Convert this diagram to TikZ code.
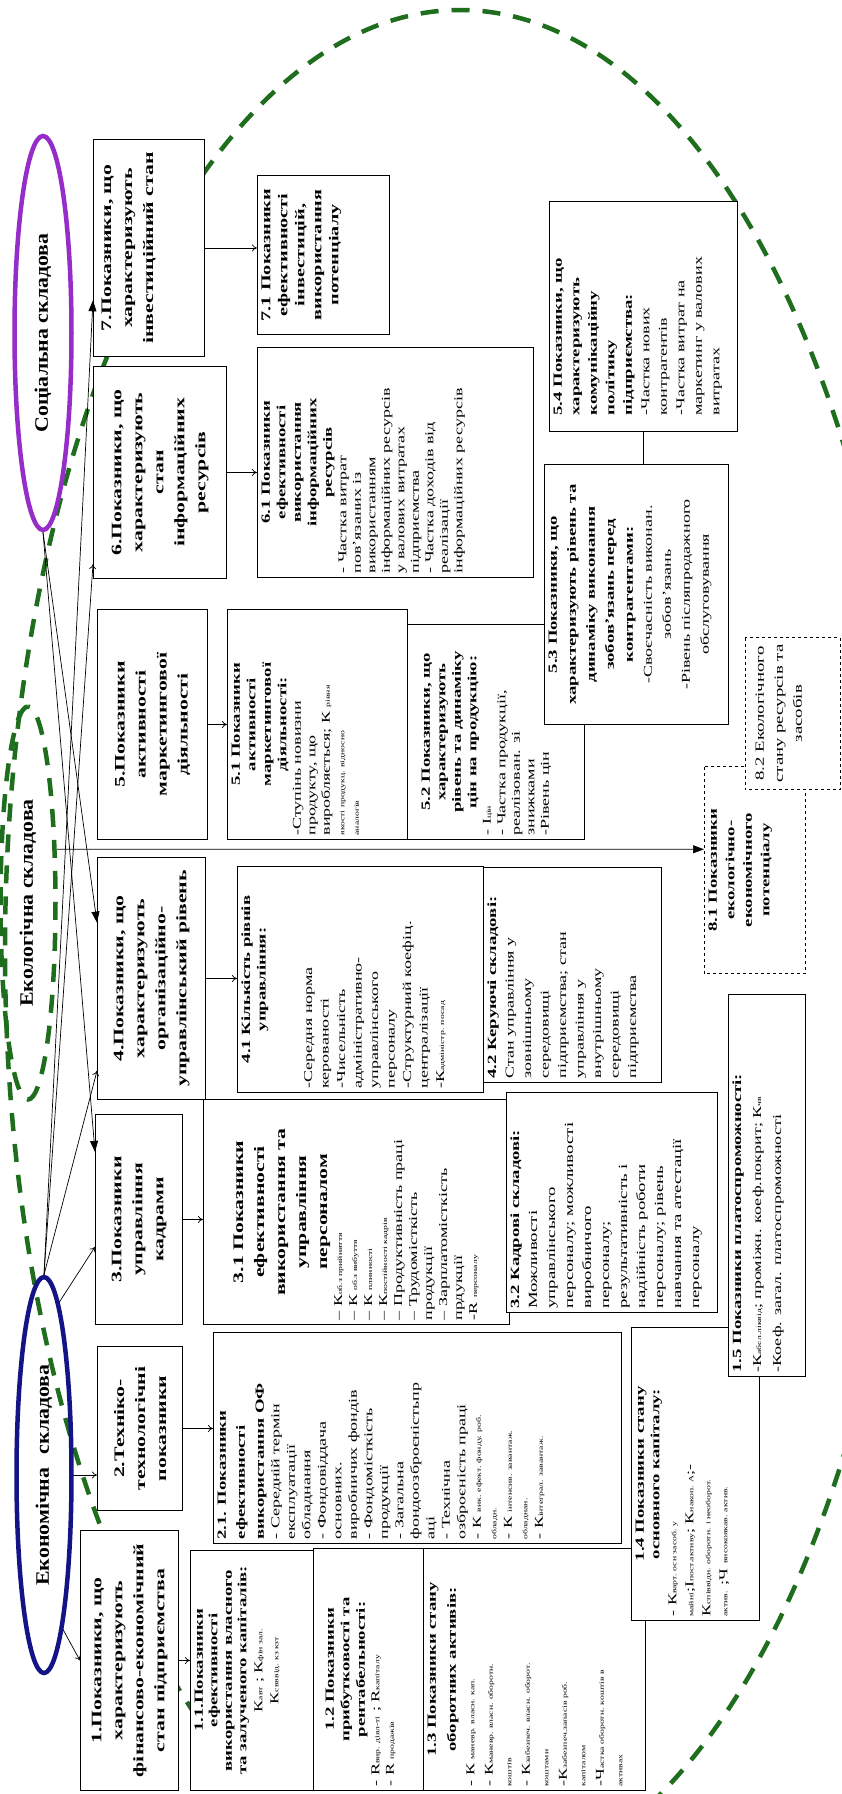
\documentclass[tikz,border=0pt]{standalone}
\usepackage{fontspec}
\setmainfont{Liberation Serif}[FakeStretch=1.5]
\newfontfamily\ringfamily{Liberation Serif}[FakeStretch=1.15]
\usetikzlibrary{calc,positioning,shapes.geometric,arrows.meta}
\definecolor{ecogreen}{RGB}{30,110,30}
\definecolor{socpurple}{RGB}{150,45,200}
\definecolor{econblue}{RGB}{20,20,135}
\newcommand{\mtitle}{\bfseries\fontsize{14.5}{21}\selectfont}
\newcommand{\stitle}{\bfseries\fontsize{12.5}{15.5}\selectfont}
\newcommand{\btext}{\normalfont\fontsize{12}{14.5}\selectfont}
\newcommand{\ringfont}{\ringfamily\bfseries\fontsize{19}{22}\selectfont}
\newcommand{\sm}[1]{{\fontsize{6.5}{7}\selectfont #1}}
\tikzset{
  box/.style={draw, fill=white, line width=1.1pt, rotate=90, inner sep=4pt, anchor=north west},
  dbox/.style={box, dashed, line width=0.9pt},
  arr/.style={-{To[length=5pt,width=7pt]}, line width=0.7pt},
  bigarr/.style={-{Triangle[length=11pt,width=8pt]}, line width=0.7pt},
  ring/.style={ellipse, rotate=90, line width=4.5pt, inner sep=0pt, font=\ringfont},
  ecodash/.style={ecogreen, line width=4.5pt, dash pattern=on 18pt off 13pt},
}
\begin{document}
\begin{tikzpicture}[x=1pt, y=-1pt]
\path[use as bounding box, fill=white] (0,0) rectangle (842,1794);
\clip (0,0) rectangle (842,1794);

% big dashed ring
\draw[ecodash] (460,950) ellipse [x radius=455, y radius=940];

% the three rings
\node[ring, draw=socpurple, minimum width=394pt, minimum height=57pt] (soc) at (43,333) {Соціальна складова};
\node[ring, draw=ecogreen, dash pattern=on 18pt off 13pt, minimum width=393pt, minimum height=55pt] (eco) at (28,903) {Екологічна складова};
\node[ring, draw=econblue, minimum width=396pt, minimum height=55pt] (econ) at (44,1475) {Економічна\hspace{14pt}складова};

% group 7
\node[box] (b7) at (93,357) {\parbox[c][103pt][t]{209pt}{\vspace*{4pt}\centering\mtitle 7.Показники, що\\характеризують\\інвестиційний стан}};
\node[box] (b71) at (257,335) {\parbox[c][124pt][t]{151pt}{\centering\bfseries\fontsize{13.5}{17}\selectfont 7.1 Показники\\ефективності\\інвестицій,\\використання\\потенціалу}};

% group 6
\node[box] (b6) at (93,579) {\parbox[c][125pt][c]{204pt}{\centering\mtitle 6.Показники, що\\характеризують\\стан\\інформаційних\\ресурсів}};
\node[box] (b61) at (257,578) {\parbox[c][268pt][t]{222pt}{\centering\stitle 6.1 Показники\\ефективності\\використання\\інформаційних\\ресурсів\par\raggedright\btext - Частка витрат\\пов’язаних із\\використанням\\інформаційних ресурсів\\у валових витратах\\підприємства\\- Частка доходів від\\реалізації\\інформаційних ресурсів}};

% group 5
\node[box] (b5) at (97,840) {\parbox[c][102pt][c]{222pt}{\centering\mtitle 5.Показники\\активності\\маркетингової\\діяльності}};
\node[box] (b51) at (227,840) {\parbox[c][172pt][t]{222pt}{\centering\stitle 5.1 Показники\\активності\\маркетингової\\діяльності:\par\raggedright\btext -Ступінь новизни\\продукту, що\\виробляється; К \sm{рівня}\\\sm{якості продукц. відносно}\\\sm{аналогів}}};
\node[box] (b52) at (407,840) {\parbox[c][169pt][t]{207pt}{\vspace*{10pt}\centering\stitle 5.2 Показники, що\\характеризують\\рівень та динаміку\\цін на продукцію:\par\raggedright\btext - І\sm{цін}\\- Частка продукції,\\реалізован. зі\\знижками\\-Рівень цін}};
\node[box] (b53) at (544,725) {\parbox[c][176pt][t]{252pt}{\centering\bfseries\fontsize{12.5}{19}\selectfont 5.3 Показники, що\\характеризують рівень та\\динаміку виконання\\зобов’язань перед\\контрагентами:\par\normalfont\fontsize{12}{19}\selectfont -Своєчасність виконан.\\зобов’язань\\-Рівень післяпродажного\\обслуговування}};
\node[box] (b54) at (549,432) {\parbox[c][180pt][t]{222pt}{\raggedright\leftskip=12pt\bfseries\fontsize{12.5}{17.5}\selectfont 5.4 Показники, що\\характеризують\\комунікаційну\\політику\\підприємства:\par\normalfont\fontsize{12}{17.5}\selectfont -Частка нових\\контрагентів\\-Частка витрат на\\маркетинг у валових\\витратах}};

% group 4
\node[box] (b4) at (97,1100) {\parbox[c][100pt][c]{234pt}{\centering\mtitle 4.Показники, що\\характеризують\\організаційно-\\управлінський рівень}};
\node[box] (b41) at (237,1093) {\parbox[c][238pt][t]{218pt}{\centering\stitle 4.1 Кількість рівнів\\управління:\par\vspace{30pt}\raggedright\normalfont\fontsize{12}{16.5}\selectfont -Середня норма\\керованості\\-Чисельність\\адміністративно-\\управлінського\\персоналу\\-Структурний коефіц.\\централізації\\-К\sm{адміністр. посад}}};
\node[box] (b42) at (483,1083) {\parbox[c][170pt][t]{207pt}{\raggedright\stitle 4.2 Керуючі складові:\par\normalfont\fontsize{12}{17.5}\selectfont Стан управління у\\зовнішньому\\середовищі\\підприємства; стан\\управління у\\внутрішньому\\середовищі\\підприємства}};

% group 3
\node[box] (b3) at (95,1325) {\parbox[c][79pt][c]{202pt}{\centering\mtitle 3.Показники\\управління\\кадрами}};
\node[box] (b31) at (203,1325) {\parbox[c][298pt][t]{217pt}{\vspace*{26pt}\centering\mtitle 3.1 Показники\\ефективності\\використання та\\управління\\персоналом\par\raggedright\normalfont\fontsize{12}{15}\selectfont – К\sm{об.з прийняття}\\– К \sm{об.з вибуття}\\– К \sm{плинності}\\– К\sm{постійності кадрів}\\– Продуктивність праці\\– Трудомісткість\\продукції\\– Зарплатомісткість\\прдукції\\-R \sm{персоналу}}};
\node[box] (b32) at (506,1313) {\parbox[c][203pt][t]{212pt}{\raggedright\stitle 3.2 Кадрові складові:\par\normalfont\fontsize{12.5}{18}\selectfont Можливості\\управлінського\\персоналу; можливості\\виробничого\\персоналу;\\результативність і\\надійність роботи\\персоналу; рівень\\навчання та атестації\\персоналу}};

% group 2
\node[box] (b2) at (97,1511) {\parbox[c][77pt][c]{156pt}{\centering\mtitle 2.Техніко-\\технологічні\\показники}};
\node[box] (b21) at (213,1544) {\parbox[c][400pt][t]{203pt}{\raggedright\bfseries\fontsize{12.5}{19}\selectfont 2.1. Показники\\ефективності\\використання ОФ\par\normalfont\fontsize{12}{15.5}\selectfont - Середній термін\\експлуатації\\обладнання\\- Фондовіддача\\основних.\\виробничих фондів\\- Фондомісткість\\продукції\\- Загальна\\фондоозброєністьпр\\аці\\- Технічна\\озброєність праці\\- К \sm{вик. ефект. фонду. роб.}\\\sm{обладн.}\\- К \sm{інтенсив. завантаж.}\\\sm{обладнан.}\\- К\sm{інтеграл. завантаж.}}};

% group 1
\node[box] (b1) at (80,1791) {\parbox[c][90pt][c]{252pt}{\centering\mtitle 1.Показники, що\\характеризують\\фінансово-економічний\\стан підприємства}};
\node[box] (b11) at (190,1791) {\parbox[c][115pt][t]{232pt}{\centering\bfseries\fontsize{12.5}{14.5}\selectfont 1.1.Показники\\ефективності\\використання власного\\та залученого капіталів:\par\normalfont\fontsize{12}{16}\selectfont К\sm{авт} ; К\sm{фін зал.}\\К\sm{свввід. кз кзт}}};
\node[box] (b12) at (313,1791) {\parbox[c][102pt][t]{234pt}{\vspace*{8pt}\centering\stitle 1.2 Показники\\прибутковості та\\рентабельності:\par\raggedright\btext - R\sm{вир. діял-ті} ; R\sm{капіталу}\\- R \sm{продажів}}};
\node[box] (b13) at (423,1791) {\parbox[c][214pt][t]{234pt}{\centering\bfseries\fontsize{12.5}{20}\selectfont 1.3 Показники стану\\оборотних активів:\par\raggedright\normalfont\fontsize{12}{18.5}\selectfont - К \sm{маневр. власн. кап.}\\- К\sm{маневр. власн. оборотн.}\\\sm{коштів}\\- К\sm{забезпеч. власн. оборот.}\\\sm{коштами}\\-К\sm{забезпеч.запасів роб.}\\\sm{капіталом}\\-Ч\sm{астка оборотн. коштів в}\\\sm{активах}}};
\node[box] (b14) at (631,1621) {\parbox[c][120pt][t]{285pt}{\centering\stitle 1.4 Показники стану\\основного капіталу:\par\raggedright\normalfont\fontsize{12}{17}\selectfont - К\sm{варт. осн засоб. у}\\\sm{майні};І\sm{пост.активу}; К\sm{накоп. А};-\\К\sm{співвідн. оборотн. і необорот.}\\\sm{актив.} ;Ч \sm{високоякав. актив.}}};
\node[box] (b15) at (728,1377) {\parbox[c][69pt][t]{374pt}{\raggedright\bfseries\fontsize{12.5}{20}\selectfont 1.5 Показники платоспроможності:\par\normalfont\fontsize{12}{20}\selectfont -К\sm{абсл.ліквід}; проміжн. коеф.покрит; К\sm{чв}\\-Коеф. загал. платоспроможності}};

% group 8 (dashed)
\node[dbox] (b81) at (704,974) {\parbox[c][93pt][t]{199pt}{\centering\bfseries\fontsize{12.5}{17.5}\selectfont 8.1 Показники\\екологічно-\\економічного\\потенціалу}};
\node[dbox] (b82) at (745,790) {\parbox[c][87pt][t]{144pt}{\vspace*{6pt}\centering\normalfont\fontsize{12.5}{19}\selectfont 8.2 Екологічного\\стану ресурсів та\\засобів}};

% rings to boxes
\draw[bigarr] (soc.west) -- ($(b4.north east)!.27!(b4.north west)$);
\draw[bigarr] (soc.west) -- ($(b3.north east)!.18!(b3.north west)$);
\draw[arr] (econ.-5) -- ($(b3.north east)!.63!(b3.north west)$);
\draw[arr] (econ.east) -- ($(b4.north east)!.88!(b4.north west)$);
\draw[arr] (econ.east) -- ($(b6.north east)!.93!(b6.north west)$);
\draw[bigarr] (econ.east) -- ($(b7.north east)!.74!(b7.north west)$);
\draw[arr] (econ.south) -- (econ.south -| b2.north);
\draw[arr] (econ.-173) -- (b1.north);
\draw[bigarr] (eco.-28) -- ($(b81.north)!.2!(b81.north east)$);

% boxes to sub-boxes
\draw[arr] (b1.south) -- (b1.south -| b11.north);
\draw[arr] (b2.south) -- (b2.south -| b21.north);
\draw[arr] (b3.south) -- (b3.south -| b31.north);
\draw[arr] (b4.south) -- (b4.south -| b41.north);
\draw[arr] (b5.south) -- (b5.south -| b51.north);
\draw[arr] (b6.south) -- (b6.south -| b61.north);
\draw[arr] (b7.south) -- (b7.south -| b71.north);
\draw[line width=0.7pt] (b54.west) -- (b54.west |- b53.east);
\end{tikzpicture}
\end{document}
